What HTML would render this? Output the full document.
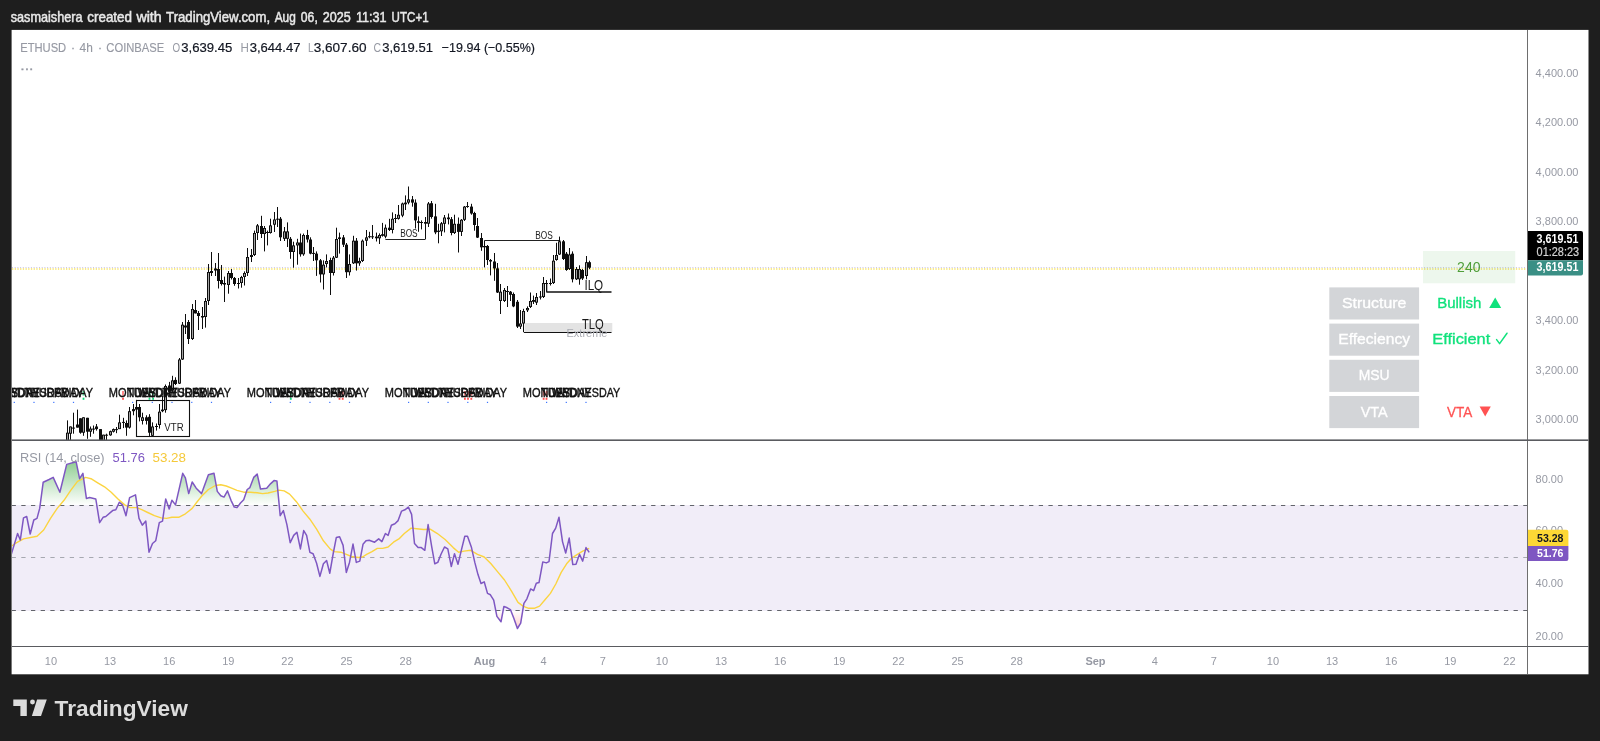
<!DOCTYPE html>
<html><head><meta charset="utf-8"><title>ETHUSD chart</title>
<style>html,body{margin:0;padding:0;background:#1e1e1e;overflow:hidden}svg{display:block;will-change:transform}</style></head>
<body>
<svg width="1600" height="741" viewBox="0 0 1600 741" font-family="Liberation Sans, sans-serif">
<rect width="1600" height="741" fill="#1e1e1e"/>
<rect x="11.6" y="29.9" width="1576.9" height="644.4" fill="#ffffff"/>
<text x="10.7" y="22" font-size="14.3" fill="#e8e8e8" text-anchor="start" font-weight="normal" textLength="71.9" lengthAdjust="spacingAndGlyphs" stroke="#e8e8e8" stroke-width="0.5">sasmaishera</text>
<text x="87.2" y="22" font-size="14.3" fill="#e8e8e8" text-anchor="start" font-weight="normal" textLength="44.9" lengthAdjust="spacingAndGlyphs" stroke="#e8e8e8" stroke-width="0.5">created</text>
<text x="136.39999999999998" y="22" font-size="14.3" fill="#e8e8e8" text-anchor="start" font-weight="normal" textLength="25.4" lengthAdjust="spacingAndGlyphs" stroke="#e8e8e8" stroke-width="0.5">with</text>
<text x="166.1" y="22" font-size="14.3" fill="#e8e8e8" text-anchor="start" font-weight="normal" textLength="104.0" lengthAdjust="spacingAndGlyphs" stroke="#e8e8e8" stroke-width="0.5">TradingView.com,</text>
<text x="274.7" y="22" font-size="14.3" fill="#e8e8e8" text-anchor="start" font-weight="normal" textLength="21.1" lengthAdjust="spacingAndGlyphs" stroke="#e8e8e8" stroke-width="0.5">Aug</text>
<text x="300.8" y="22" font-size="14.3" fill="#e8e8e8" text-anchor="start" font-weight="normal" textLength="17.0" lengthAdjust="spacingAndGlyphs" stroke="#e8e8e8" stroke-width="0.5">06,</text>
<text x="322.8" y="22" font-size="14.3" fill="#e8e8e8" text-anchor="start" font-weight="normal" textLength="28.0" lengthAdjust="spacingAndGlyphs" stroke="#e8e8e8" stroke-width="0.5">2025</text>
<text x="355.9" y="22" font-size="14.3" fill="#e8e8e8" text-anchor="start" font-weight="normal" textLength="30.6" lengthAdjust="spacingAndGlyphs" stroke="#e8e8e8" stroke-width="0.5">11:31</text>
<text x="391.59999999999997" y="22" font-size="14.3" fill="#e8e8e8" text-anchor="start" font-weight="normal" textLength="37.0" lengthAdjust="spacingAndGlyphs" stroke="#e8e8e8" stroke-width="0.5">UTC+1</text>
<defs><clipPath id="mp"><rect x="12" y="30" width="1515" height="410"/></clipPath><clipPath id="rp"><rect x="12" y="441" width="1515" height="205"/></clipPath><linearGradient id="gg" x1="0" y1="0" x2="0" y2="1"><stop offset="0" stop-color="#4caf50" stop-opacity="0.62"/><stop offset="1" stop-color="#4caf50" stop-opacity="0.0"/></linearGradient><linearGradient id="rg" x1="0" y1="0" x2="0" y2="1"><stop offset="0" stop-color="#ff5252" stop-opacity="0.0"/><stop offset="1" stop-color="#ff5252" stop-opacity="0.3"/></linearGradient></defs>
<g clip-path="url(#mp)">
<line x1="12" y1="267.5" x2="1525.5" y2="267.5" stroke="#c9c4e8" stroke-width="1" stroke-dasharray="1 1.7"/>
<line x1="12" y1="269" x2="1525.5" y2="269" stroke="#f7e463" stroke-width="1.4" stroke-dasharray="1.3 1.4"/>
<rect x="524.6" y="323" width="87.7" height="9" fill="#e3e3e3"/>
<line x1="523.8" y1="332.5" x2="611.5" y2="332.5" stroke="#111" stroke-width="1.2"/>
<line x1="546.3" y1="292" x2="611.5" y2="292" stroke="#111" stroke-width="1.6"/>
<line x1="546.8" y1="283" x2="546.8" y2="292" stroke="#111" stroke-width="1"/>
<line x1="385.4" y1="239.5" x2="425.5" y2="239.5" stroke="#222" stroke-width="1.1"/>
<line x1="484.5" y1="240.5" x2="560.3" y2="240.5" stroke="#222" stroke-width="1.1"/>
<rect x="136.5" y="400.5" width="53" height="36" fill="none" stroke="#111" stroke-width="1.1"/>
<line x1="67.5" y1="420.4" x2="67.5" y2="441.0" stroke="#0d0d0d" stroke-width="1"/>
<rect x="66" y="432.7" width="3" height="8.3" fill="#0d0d0d"/>
<rect x="67" y="433.6" width="1" height="6.5" fill="#a4a4a4"/>
<line x1="70.5" y1="426.5" x2="70.5" y2="441.0" stroke="#0d0d0d" stroke-width="1"/>
<rect x="69" y="426.5" width="3" height="7.2" fill="#0d0d0d"/>
<rect x="70" y="427.4" width="1" height="5.4" fill="#a4a4a4"/>
<line x1="73.5" y1="412.7" x2="73.5" y2="433.7" stroke="#0d0d0d" stroke-width="1"/>
<rect x="72" y="427.6" width="3" height="1.0" fill="#0d0d0d"/>
<line x1="77.5" y1="409.6" x2="77.5" y2="427.6" stroke="#0d0d0d" stroke-width="1"/>
<rect x="76" y="424.5" width="3" height="3.1" fill="#0d0d0d"/>
<line x1="80.5" y1="418.3" x2="80.5" y2="433.7" stroke="#0d0d0d" stroke-width="1"/>
<rect x="79" y="418.3" width="3" height="14.4" fill="#0d0d0d"/>
<line x1="83.5" y1="417.3" x2="83.5" y2="435.8" stroke="#0d0d0d" stroke-width="1"/>
<rect x="82" y="417.3" width="3" height="15.4" fill="#0d0d0d"/>
<rect x="83" y="418.2" width="1" height="13.6" fill="#a4a4a4"/>
<line x1="87.5" y1="417.8" x2="87.5" y2="438.8" stroke="#0d0d0d" stroke-width="1"/>
<rect x="86" y="417.8" width="3" height="13.9" fill="#0d0d0d"/>
<line x1="90.5" y1="426.5" x2="90.5" y2="436.8" stroke="#0d0d0d" stroke-width="1"/>
<rect x="89" y="428.6" width="3" height="3.1" fill="#0d0d0d"/>
<rect x="90" y="429.5" width="1" height="1.3" fill="#a4a4a4"/>
<line x1="93.5" y1="425.5" x2="93.5" y2="433.7" stroke="#0d0d0d" stroke-width="1"/>
<rect x="92" y="428.6" width="3" height="1.0" fill="#0d0d0d"/>
<line x1="96.5" y1="424.0" x2="96.5" y2="430.6" stroke="#0d0d0d" stroke-width="1"/>
<rect x="95" y="426.5" width="3" height="2.6" fill="#0d0d0d"/>
<line x1="100.5" y1="429.1" x2="100.5" y2="441.0" stroke="#0d0d0d" stroke-width="1"/>
<rect x="99" y="429.1" width="3" height="11.9" fill="#0d0d0d"/>
<line x1="103.5" y1="434.7" x2="103.5" y2="441.0" stroke="#0d0d0d" stroke-width="1"/>
<rect x="102" y="434.7" width="3" height="6.3" fill="#0d0d0d"/>
<rect x="103" y="435.6" width="1" height="4.5" fill="#a4a4a4"/>
<line x1="106.5" y1="433.7" x2="106.5" y2="441.0" stroke="#0d0d0d" stroke-width="1"/>
<rect x="105" y="434.7" width="3" height="1.0" fill="#0d0d0d"/>
<line x1="110.5" y1="430.6" x2="110.5" y2="435.8" stroke="#0d0d0d" stroke-width="1"/>
<rect x="109" y="431.2" width="3" height="4.1" fill="#0d0d0d"/>
<rect x="110" y="432.1" width="1" height="2.3" fill="#a4a4a4"/>
<line x1="113.5" y1="428.5" x2="113.5" y2="432.5" stroke="#0d0d0d" stroke-width="1"/>
<rect x="112" y="429.1" width="3" height="2.6" fill="#0d0d0d"/>
<rect x="113" y="430.0" width="1" height="0.8" fill="#a4a4a4"/>
<line x1="116.5" y1="427.0" x2="116.5" y2="433.2" stroke="#0d0d0d" stroke-width="1"/>
<rect x="115" y="429.1" width="3" height="1.0" fill="#0d0d0d"/>
<line x1="119.5" y1="414.7" x2="119.5" y2="429.1" stroke="#0d0d0d" stroke-width="1"/>
<rect x="118" y="422.4" width="3" height="6.7" fill="#0d0d0d"/>
<rect x="119" y="423.3" width="1" height="4.9" fill="#a4a4a4"/>
<line x1="123.5" y1="417.8" x2="123.5" y2="428.1" stroke="#0d0d0d" stroke-width="1"/>
<rect x="122" y="421.9" width="3" height="1.0" fill="#0d0d0d"/>
<line x1="126.5" y1="420.4" x2="126.5" y2="435.8" stroke="#0d0d0d" stroke-width="1"/>
<rect x="125" y="423.0" width="3" height="4.6" fill="#0d0d0d"/>
<line x1="129.5" y1="407.0" x2="129.5" y2="428.6" stroke="#0d0d0d" stroke-width="1"/>
<rect x="128" y="411.2" width="3" height="16.4" fill="#0d0d0d"/>
<rect x="129" y="412.1" width="1" height="14.6" fill="#a4a4a4"/>
<line x1="133.5" y1="404.0" x2="133.5" y2="415.3" stroke="#0d0d0d" stroke-width="1"/>
<rect x="132" y="409.1" width="3" height="2.1" fill="#0d0d0d"/>
<line x1="136.5" y1="399.9" x2="136.5" y2="410.0" stroke="#0d0d0d" stroke-width="1"/>
<rect x="135" y="407.0" width="3" height="2.6" fill="#0d0d0d"/>
<line x1="139.5" y1="404.0" x2="139.5" y2="421.4" stroke="#0d0d0d" stroke-width="1"/>
<rect x="138" y="407.0" width="3" height="10.3" fill="#0d0d0d"/>
<line x1="142.5" y1="412.7" x2="142.5" y2="424.5" stroke="#0d0d0d" stroke-width="1"/>
<rect x="141" y="417.3" width="3" height="3.6" fill="#0d0d0d"/>
<rect x="142" y="418.2" width="1" height="1.8" fill="#a4a4a4"/>
<line x1="146.5" y1="415.3" x2="146.5" y2="424.5" stroke="#0d0d0d" stroke-width="1"/>
<rect x="145" y="417.3" width="3" height="3.6" fill="#0d0d0d"/>
<line x1="149.5" y1="414.2" x2="149.5" y2="436.8" stroke="#0d0d0d" stroke-width="1"/>
<rect x="148" y="416.8" width="3" height="15.9" fill="#0d0d0d"/>
<line x1="152.5" y1="422.4" x2="152.5" y2="435.8" stroke="#0d0d0d" stroke-width="1"/>
<rect x="151" y="426.5" width="3" height="9.3" fill="#0d0d0d"/>
<rect x="152" y="427.4" width="1" height="7.5" fill="#a4a4a4"/>
<line x1="156.5" y1="423.5" x2="156.5" y2="430.6" stroke="#0d0d0d" stroke-width="1"/>
<rect x="155" y="426.0" width="3" height="1.0" fill="#0d0d0d"/>
<line x1="159.5" y1="404.0" x2="159.5" y2="428.6" stroke="#0d0d0d" stroke-width="1"/>
<rect x="158" y="411.7" width="3" height="13.3" fill="#0d0d0d"/>
<rect x="159" y="412.6" width="1" height="11.5" fill="#a4a4a4"/>
<line x1="162.5" y1="395.8" x2="162.5" y2="412.2" stroke="#0d0d0d" stroke-width="1"/>
<rect x="161" y="409.6" width="3" height="1.6" fill="#0d0d0d"/>
<line x1="165.5" y1="384.5" x2="165.5" y2="412.7" stroke="#0d0d0d" stroke-width="1"/>
<rect x="164" y="386.0" width="3" height="24.1" fill="#0d0d0d"/>
<rect x="165" y="386.9" width="1" height="22.3" fill="#a4a4a4"/>
<line x1="169.5" y1="381.9" x2="169.5" y2="393.7" stroke="#0d0d0d" stroke-width="1"/>
<rect x="168" y="385.5" width="3" height="6.2" fill="#0d0d0d"/>
<line x1="172.5" y1="375.8" x2="172.5" y2="391.7" stroke="#0d0d0d" stroke-width="1"/>
<rect x="171" y="380.4" width="3" height="10.2" fill="#0d0d0d"/>
<rect x="172" y="381.3" width="1" height="8.4" fill="#a4a4a4"/>
<line x1="175.5" y1="377.3" x2="175.5" y2="385.0" stroke="#0d0d0d" stroke-width="1"/>
<rect x="174" y="379.9" width="3" height="4.1" fill="#0d0d0d"/>
<line x1="179.5" y1="358.0" x2="179.5" y2="384.0" stroke="#0d0d0d" stroke-width="1"/>
<rect x="178" y="359.5" width="3" height="24.1" fill="#0d0d0d"/>
<rect x="179" y="360.4" width="1" height="22.3" fill="#a4a4a4"/>
<line x1="182.5" y1="322.0" x2="182.5" y2="360.0" stroke="#0d0d0d" stroke-width="1"/>
<rect x="181" y="324.7" width="3" height="34.8" fill="#0d0d0d"/>
<rect x="182" y="325.6" width="1" height="33.0" fill="#a4a4a4"/>
<line x1="185.5" y1="314.0" x2="185.5" y2="334.0" stroke="#0d0d0d" stroke-width="1"/>
<rect x="184" y="325.5" width="3" height="2.0" fill="#0d0d0d"/>
<line x1="188.5" y1="320.0" x2="188.5" y2="344.0" stroke="#0d0d0d" stroke-width="1"/>
<rect x="187" y="322.0" width="3" height="17.0" fill="#0d0d0d"/>
<line x1="192.5" y1="304.0" x2="192.5" y2="340.0" stroke="#0d0d0d" stroke-width="1"/>
<rect x="191" y="309.0" width="3" height="30.0" fill="#0d0d0d"/>
<rect x="192" y="309.9" width="1" height="28.2" fill="#a4a4a4"/>
<line x1="195.5" y1="300.0" x2="195.5" y2="313.4" stroke="#0d0d0d" stroke-width="1"/>
<rect x="194" y="310.0" width="3" height="3.4" fill="#0d0d0d"/>
<line x1="198.5" y1="311.0" x2="198.5" y2="330.0" stroke="#0d0d0d" stroke-width="1"/>
<rect x="197" y="313.0" width="3" height="3.0" fill="#0d0d0d"/>
<line x1="202.5" y1="307.0" x2="202.5" y2="329.0" stroke="#0d0d0d" stroke-width="1"/>
<rect x="201" y="316.0" width="3" height="1.5" fill="#0d0d0d"/>
<line x1="205.5" y1="298.0" x2="205.5" y2="327.6" stroke="#0d0d0d" stroke-width="1"/>
<rect x="204" y="301.0" width="3" height="16.0" fill="#0d0d0d"/>
<rect x="205" y="301.9" width="1" height="14.2" fill="#a4a4a4"/>
<line x1="208.5" y1="264.0" x2="208.5" y2="305.0" stroke="#0d0d0d" stroke-width="1"/>
<rect x="207" y="272.0" width="3" height="29.0" fill="#0d0d0d"/>
<rect x="208" y="272.9" width="1" height="27.2" fill="#a4a4a4"/>
<line x1="211.5" y1="252.0" x2="211.5" y2="276.0" stroke="#0d0d0d" stroke-width="1"/>
<rect x="210" y="271.0" width="3" height="2.0" fill="#0d0d0d"/>
<line x1="215.5" y1="263.0" x2="215.5" y2="276.0" stroke="#0d0d0d" stroke-width="1"/>
<rect x="214" y="268.5" width="3" height="2.0" fill="#0d0d0d"/>
<line x1="218.5" y1="253.0" x2="218.5" y2="288.5" stroke="#0d0d0d" stroke-width="1"/>
<rect x="217" y="269.0" width="3" height="12.0" fill="#0d0d0d"/>
<line x1="221.5" y1="265.0" x2="221.5" y2="285.5" stroke="#0d0d0d" stroke-width="1"/>
<rect x="220" y="280.0" width="3" height="4.0" fill="#0d0d0d"/>
<line x1="224.5" y1="276.6" x2="224.5" y2="302.0" stroke="#0d0d0d" stroke-width="1"/>
<rect x="223" y="283.0" width="3" height="1.5" fill="#0d0d0d"/>
<line x1="228.5" y1="271.0" x2="228.5" y2="293.7" stroke="#0d0d0d" stroke-width="1"/>
<rect x="227" y="273.0" width="3" height="12.0" fill="#0d0d0d"/>
<rect x="228" y="273.9" width="1" height="10.2" fill="#a4a4a4"/>
<line x1="231.5" y1="269.0" x2="231.5" y2="279.5" stroke="#0d0d0d" stroke-width="1"/>
<rect x="230" y="273.0" width="3" height="5.0" fill="#0d0d0d"/>
<line x1="234.5" y1="277.0" x2="234.5" y2="285.8" stroke="#0d0d0d" stroke-width="1"/>
<rect x="233" y="278.0" width="3" height="6.0" fill="#0d0d0d"/>
<line x1="238.5" y1="278.0" x2="238.5" y2="288.5" stroke="#0d0d0d" stroke-width="1"/>
<rect x="237" y="283.0" width="3" height="1.0" fill="#0d0d0d"/>
<line x1="241.5" y1="275.9" x2="241.5" y2="287.7" stroke="#0d0d0d" stroke-width="1"/>
<rect x="240" y="277.0" width="3" height="6.0" fill="#0d0d0d"/>
<rect x="241" y="277.9" width="1" height="4.2" fill="#a4a4a4"/>
<line x1="244.5" y1="271.4" x2="244.5" y2="285.5" stroke="#0d0d0d" stroke-width="1"/>
<rect x="243" y="273.0" width="3" height="4.0" fill="#0d0d0d"/>
<rect x="244" y="273.9" width="1" height="2.2" fill="#a4a4a4"/>
<line x1="247.5" y1="248.0" x2="247.5" y2="276.0" stroke="#0d0d0d" stroke-width="1"/>
<rect x="246" y="257.0" width="3" height="16.0" fill="#0d0d0d"/>
<rect x="247" y="257.9" width="1" height="14.2" fill="#a4a4a4"/>
<line x1="251.5" y1="249.0" x2="251.5" y2="262.0" stroke="#0d0d0d" stroke-width="1"/>
<rect x="250" y="255.0" width="3" height="2.0" fill="#0d0d0d"/>
<line x1="254.5" y1="230.6" x2="254.5" y2="256.0" stroke="#0d0d0d" stroke-width="1"/>
<rect x="253" y="233.0" width="3" height="22.0" fill="#0d0d0d"/>
<rect x="254" y="233.9" width="1" height="20.2" fill="#a4a4a4"/>
<line x1="257.5" y1="224.0" x2="257.5" y2="240.0" stroke="#0d0d0d" stroke-width="1"/>
<rect x="256" y="225.4" width="3" height="7.6" fill="#0d0d0d"/>
<rect x="257" y="226.3" width="1" height="5.8" fill="#a4a4a4"/>
<line x1="261.5" y1="215.8" x2="261.5" y2="238.0" stroke="#0d0d0d" stroke-width="1"/>
<rect x="260" y="226.0" width="3" height="8.0" fill="#0d0d0d"/>
<line x1="264.5" y1="226.0" x2="264.5" y2="251.4" stroke="#0d0d0d" stroke-width="1"/>
<rect x="263" y="228.0" width="3" height="6.0" fill="#0d0d0d"/>
<rect x="264" y="228.9" width="1" height="4.2" fill="#a4a4a4"/>
<line x1="267.5" y1="230.6" x2="267.5" y2="245.4" stroke="#0d0d0d" stroke-width="1"/>
<rect x="266" y="232.0" width="3" height="1.0" fill="#0d0d0d"/>
<line x1="270.5" y1="218.7" x2="270.5" y2="233.6" stroke="#0d0d0d" stroke-width="1"/>
<rect x="269" y="225.4" width="3" height="7.6" fill="#0d0d0d"/>
<rect x="270" y="226.3" width="1" height="5.8" fill="#a4a4a4"/>
<line x1="274.5" y1="212.0" x2="274.5" y2="232.0" stroke="#0d0d0d" stroke-width="1"/>
<rect x="273" y="219.5" width="3" height="5.2" fill="#0d0d0d"/>
<rect x="274" y="220.4" width="1" height="3.4" fill="#a4a4a4"/>
<line x1="277.5" y1="207.0" x2="277.5" y2="227.0" stroke="#0d0d0d" stroke-width="1"/>
<rect x="276" y="218.7" width="3" height="1.0" fill="#0d0d0d"/>
<line x1="280.5" y1="217.0" x2="280.5" y2="241.0" stroke="#0d0d0d" stroke-width="1"/>
<rect x="279" y="218.7" width="3" height="18.6" fill="#0d0d0d"/>
<line x1="284.5" y1="227.0" x2="284.5" y2="241.0" stroke="#0d0d0d" stroke-width="1"/>
<rect x="283" y="231.4" width="3" height="7.4" fill="#0d0d0d"/>
<rect x="284" y="232.3" width="1" height="5.6" fill="#a4a4a4"/>
<line x1="287.5" y1="222.4" x2="287.5" y2="247.0" stroke="#0d0d0d" stroke-width="1"/>
<rect x="286" y="231.4" width="3" height="7.4" fill="#0d0d0d"/>
<rect x="287" y="232.3" width="1" height="5.6" fill="#a4a4a4"/>
<line x1="290.5" y1="237.0" x2="290.5" y2="258.8" stroke="#0d0d0d" stroke-width="1"/>
<rect x="289" y="238.8" width="3" height="13.2" fill="#0d0d0d"/>
<line x1="293.5" y1="241.7" x2="293.5" y2="267.7" stroke="#0d0d0d" stroke-width="1"/>
<rect x="292" y="245.4" width="3" height="6.6" fill="#0d0d0d"/>
<rect x="293" y="246.3" width="1" height="4.8" fill="#a4a4a4"/>
<line x1="297.5" y1="238.8" x2="297.5" y2="264.7" stroke="#0d0d0d" stroke-width="1"/>
<rect x="296" y="242.5" width="3" height="2.9" fill="#0d0d0d"/>
<rect x="297" y="243.4" width="1" height="1.1" fill="#a4a4a4"/>
<line x1="300.5" y1="233.6" x2="300.5" y2="256.6" stroke="#0d0d0d" stroke-width="1"/>
<rect x="299" y="242.5" width="3" height="11.8" fill="#0d0d0d"/>
<line x1="303.5" y1="233.6" x2="303.5" y2="255.8" stroke="#0d0d0d" stroke-width="1"/>
<rect x="302" y="235.0" width="3" height="19.3" fill="#0d0d0d"/>
<rect x="303" y="235.9" width="1" height="17.5" fill="#a4a4a4"/>
<line x1="307.5" y1="229.9" x2="307.5" y2="242.5" stroke="#0d0d0d" stroke-width="1"/>
<rect x="306" y="235.0" width="3" height="4.5" fill="#0d0d0d"/>
<line x1="310.5" y1="237.3" x2="310.5" y2="254.3" stroke="#0d0d0d" stroke-width="1"/>
<rect x="309" y="239.5" width="3" height="14.1" fill="#0d0d0d"/>
<line x1="313.5" y1="247.0" x2="313.5" y2="261.0" stroke="#0d0d0d" stroke-width="1"/>
<rect x="312" y="252.9" width="3" height="1.0" fill="#0d0d0d"/>
<line x1="316.5" y1="251.4" x2="316.5" y2="275.9" stroke="#0d0d0d" stroke-width="1"/>
<rect x="315" y="253.6" width="3" height="6.7" fill="#0d0d0d"/>
<line x1="320.5" y1="259.0" x2="320.5" y2="282.5" stroke="#0d0d0d" stroke-width="1"/>
<rect x="319" y="260.3" width="3" height="14.1" fill="#0d0d0d"/>
<line x1="323.5" y1="260.3" x2="323.5" y2="289.5" stroke="#0d0d0d" stroke-width="1"/>
<rect x="322" y="264.7" width="3" height="9.7" fill="#0d0d0d"/>
<rect x="323" y="265.6" width="1" height="7.9" fill="#a4a4a4"/>
<line x1="326.5" y1="254.4" x2="326.5" y2="267.4" stroke="#0d0d0d" stroke-width="1"/>
<rect x="325" y="261.0" width="3" height="3.0" fill="#0d0d0d"/>
<rect x="326" y="261.9" width="1" height="1.2" fill="#a4a4a4"/>
<line x1="330.5" y1="257.7" x2="330.5" y2="295.0" stroke="#0d0d0d" stroke-width="1"/>
<rect x="329" y="260.0" width="3" height="13.0" fill="#0d0d0d"/>
<line x1="333.5" y1="256.0" x2="333.5" y2="275.5" stroke="#0d0d0d" stroke-width="1"/>
<rect x="332" y="257.7" width="3" height="15.3" fill="#0d0d0d"/>
<rect x="333" y="258.6" width="1" height="13.5" fill="#a4a4a4"/>
<line x1="336.5" y1="227.7" x2="336.5" y2="258.0" stroke="#0d0d0d" stroke-width="1"/>
<rect x="335" y="239.0" width="3" height="18.7" fill="#0d0d0d"/>
<rect x="336" y="239.9" width="1" height="16.9" fill="#a4a4a4"/>
<line x1="339.5" y1="232.6" x2="339.5" y2="253.6" stroke="#0d0d0d" stroke-width="1"/>
<rect x="338" y="237.4" width="3" height="1.6" fill="#0d0d0d"/>
<line x1="343.5" y1="235.0" x2="343.5" y2="247.0" stroke="#0d0d0d" stroke-width="1"/>
<rect x="342" y="237.4" width="3" height="7.3" fill="#0d0d0d"/>
<line x1="346.5" y1="243.0" x2="346.5" y2="278.0" stroke="#0d0d0d" stroke-width="1"/>
<rect x="345" y="244.7" width="3" height="27.5" fill="#0d0d0d"/>
<line x1="349.5" y1="254.4" x2="349.5" y2="275.5" stroke="#0d0d0d" stroke-width="1"/>
<rect x="348" y="264.0" width="3" height="8.2" fill="#0d0d0d"/>
<rect x="349" y="264.9" width="1" height="6.4" fill="#a4a4a4"/>
<line x1="353.5" y1="235.8" x2="353.5" y2="264.0" stroke="#0d0d0d" stroke-width="1"/>
<rect x="352" y="240.7" width="3" height="22.6" fill="#0d0d0d"/>
<rect x="353" y="241.6" width="1" height="20.8" fill="#a4a4a4"/>
<line x1="356.5" y1="238.0" x2="356.5" y2="270.6" stroke="#0d0d0d" stroke-width="1"/>
<rect x="355" y="240.7" width="3" height="22.6" fill="#0d0d0d"/>
<line x1="359.5" y1="257.7" x2="359.5" y2="265.8" stroke="#0d0d0d" stroke-width="1"/>
<rect x="358" y="261.0" width="3" height="2.3" fill="#0d0d0d"/>
<rect x="359" y="261.9" width="1" height="0.5" fill="#a4a4a4"/>
<line x1="362.5" y1="239.5" x2="362.5" y2="262.0" stroke="#0d0d0d" stroke-width="1"/>
<rect x="361" y="240.7" width="3" height="20.3" fill="#0d0d0d"/>
<rect x="362" y="241.6" width="1" height="18.5" fill="#a4a4a4"/>
<line x1="366.5" y1="230.0" x2="366.5" y2="246.0" stroke="#0d0d0d" stroke-width="1"/>
<rect x="365" y="237.4" width="3" height="3.3" fill="#0d0d0d"/>
<rect x="366" y="238.3" width="1" height="1.5" fill="#a4a4a4"/>
<line x1="369.5" y1="231.8" x2="369.5" y2="238.3" stroke="#0d0d0d" stroke-width="1"/>
<rect x="368" y="236.2" width="3" height="1.0" fill="#0d0d0d"/>
<line x1="372.5" y1="225.0" x2="372.5" y2="239.0" stroke="#0d0d0d" stroke-width="1"/>
<rect x="371" y="236.3" width="3" height="1.0" fill="#0d0d0d"/>
<line x1="376.5" y1="232.6" x2="376.5" y2="241.5" stroke="#0d0d0d" stroke-width="1"/>
<rect x="375" y="236.6" width="3" height="1.7" fill="#0d0d0d"/>
<line x1="379.5" y1="233.4" x2="379.5" y2="244.0" stroke="#0d0d0d" stroke-width="1"/>
<rect x="378" y="235.0" width="3" height="3.3" fill="#0d0d0d"/>
<rect x="379" y="235.9" width="1" height="1.5" fill="#a4a4a4"/>
<line x1="382.5" y1="222.9" x2="382.5" y2="236.6" stroke="#0d0d0d" stroke-width="1"/>
<rect x="381" y="234.2" width="3" height="1.6" fill="#0d0d0d"/>
<line x1="385.5" y1="224.5" x2="385.5" y2="238.3" stroke="#0d0d0d" stroke-width="1"/>
<rect x="384" y="227.7" width="3" height="8.9" fill="#0d0d0d"/>
<rect x="385" y="228.6" width="1" height="7.1" fill="#a4a4a4"/>
<line x1="389.5" y1="218.8" x2="389.5" y2="231.0" stroke="#0d0d0d" stroke-width="1"/>
<rect x="388" y="227.7" width="3" height="2.3" fill="#0d0d0d"/>
<line x1="392.5" y1="212.4" x2="392.5" y2="233.4" stroke="#0d0d0d" stroke-width="1"/>
<rect x="391" y="218.8" width="3" height="11.2" fill="#0d0d0d"/>
<rect x="392" y="219.7" width="1" height="9.4" fill="#a4a4a4"/>
<line x1="395.5" y1="214.0" x2="395.5" y2="223.0" stroke="#0d0d0d" stroke-width="1"/>
<rect x="394" y="218.0" width="3" height="1.0" fill="#0d0d0d"/>
<line x1="398.5" y1="205.0" x2="398.5" y2="219.6" stroke="#0d0d0d" stroke-width="1"/>
<rect x="397" y="214.8" width="3" height="4.0" fill="#0d0d0d"/>
<rect x="398" y="215.7" width="1" height="2.2" fill="#a4a4a4"/>
<line x1="402.5" y1="202.6" x2="402.5" y2="217.2" stroke="#0d0d0d" stroke-width="1"/>
<rect x="401" y="203.5" width="3" height="12.1" fill="#0d0d0d"/>
<rect x="402" y="204.4" width="1" height="10.3" fill="#a4a4a4"/>
<line x1="405.5" y1="195.4" x2="405.5" y2="210.0" stroke="#0d0d0d" stroke-width="1"/>
<rect x="404" y="202.6" width="3" height="1.7" fill="#0d0d0d"/>
<line x1="408.5" y1="186.5" x2="408.5" y2="204.3" stroke="#0d0d0d" stroke-width="1"/>
<rect x="407" y="199.4" width="3" height="3.2" fill="#0d0d0d"/>
<rect x="408" y="200.3" width="1" height="1.4" fill="#a4a4a4"/>
<line x1="412.5" y1="196.0" x2="412.5" y2="206.7" stroke="#0d0d0d" stroke-width="1"/>
<rect x="411" y="199.4" width="3" height="3.2" fill="#0d0d0d"/>
<line x1="415.5" y1="199.4" x2="415.5" y2="228.5" stroke="#0d0d0d" stroke-width="1"/>
<rect x="414" y="202.6" width="3" height="17.8" fill="#0d0d0d"/>
<line x1="418.5" y1="216.4" x2="418.5" y2="231.8" stroke="#0d0d0d" stroke-width="1"/>
<rect x="417" y="221.3" width="3" height="1.6" fill="#0d0d0d"/>
<line x1="421.5" y1="220.4" x2="421.5" y2="229.4" stroke="#0d0d0d" stroke-width="1"/>
<rect x="420" y="222.0" width="3" height="1.0" fill="#0d0d0d"/>
<line x1="425.5" y1="217.0" x2="425.5" y2="239.0" stroke="#0d0d0d" stroke-width="1"/>
<rect x="424" y="222.0" width="3" height="1.7" fill="#0d0d0d"/>
<line x1="428.5" y1="202.0" x2="428.5" y2="227.0" stroke="#0d0d0d" stroke-width="1"/>
<rect x="427" y="203.5" width="3" height="20.2" fill="#0d0d0d"/>
<rect x="428" y="204.4" width="1" height="18.4" fill="#a4a4a4"/>
<line x1="431.5" y1="201.0" x2="431.5" y2="218.7" stroke="#0d0d0d" stroke-width="1"/>
<rect x="430" y="203.2" width="3" height="13.8" fill="#0d0d0d"/>
<line x1="435.5" y1="203.8" x2="435.5" y2="234.2" stroke="#0d0d0d" stroke-width="1"/>
<rect x="434" y="216.4" width="3" height="16.0" fill="#0d0d0d"/>
<line x1="438.5" y1="223.8" x2="438.5" y2="243.3" stroke="#0d0d0d" stroke-width="1"/>
<rect x="437" y="230.7" width="3" height="1.2" fill="#0d0d0d"/>
<line x1="441.5" y1="222.0" x2="441.5" y2="236.0" stroke="#0d0d0d" stroke-width="1"/>
<rect x="440" y="223.3" width="3" height="8.0" fill="#0d0d0d"/>
<rect x="441" y="224.2" width="1" height="6.2" fill="#a4a4a4"/>
<line x1="444.5" y1="215.0" x2="444.5" y2="232.4" stroke="#0d0d0d" stroke-width="1"/>
<rect x="443" y="217.5" width="3" height="6.3" fill="#0d0d0d"/>
<rect x="444" y="218.4" width="1" height="4.5" fill="#a4a4a4"/>
<line x1="448.5" y1="213.5" x2="448.5" y2="224.4" stroke="#0d0d0d" stroke-width="1"/>
<rect x="447" y="217.5" width="3" height="1.7" fill="#0d0d0d"/>
<line x1="451.5" y1="217.0" x2="451.5" y2="235.3" stroke="#0d0d0d" stroke-width="1"/>
<rect x="450" y="219.2" width="3" height="13.8" fill="#0d0d0d"/>
<line x1="454.5" y1="214.7" x2="454.5" y2="234.0" stroke="#0d0d0d" stroke-width="1"/>
<rect x="453" y="223.8" width="3" height="9.2" fill="#0d0d0d"/>
<rect x="454" y="224.7" width="1" height="7.4" fill="#a4a4a4"/>
<line x1="458.5" y1="217.5" x2="458.5" y2="252.5" stroke="#0d0d0d" stroke-width="1"/>
<rect x="457" y="223.8" width="3" height="8.1" fill="#0d0d0d"/>
<line x1="461.5" y1="219.0" x2="461.5" y2="236.0" stroke="#0d0d0d" stroke-width="1"/>
<rect x="460" y="219.8" width="3" height="12.1" fill="#0d0d0d"/>
<rect x="461" y="220.7" width="1" height="10.3" fill="#a4a4a4"/>
<line x1="464.5" y1="206.0" x2="464.5" y2="221.0" stroke="#0d0d0d" stroke-width="1"/>
<rect x="463" y="206.6" width="3" height="13.2" fill="#0d0d0d"/>
<rect x="464" y="207.5" width="1" height="11.4" fill="#a4a4a4"/>
<line x1="467.5" y1="202.0" x2="467.5" y2="207.8" stroke="#0d0d0d" stroke-width="1"/>
<rect x="466" y="206.0" width="3" height="1.0" fill="#0d0d0d"/>
<line x1="471.5" y1="203.8" x2="471.5" y2="214.7" stroke="#0d0d0d" stroke-width="1"/>
<rect x="470" y="206.6" width="3" height="6.9" fill="#0d0d0d"/>
<line x1="474.5" y1="211.8" x2="474.5" y2="230.7" stroke="#0d0d0d" stroke-width="1"/>
<rect x="473" y="213.0" width="3" height="12.0" fill="#0d0d0d"/>
<line x1="477.5" y1="218.0" x2="477.5" y2="238.0" stroke="#0d0d0d" stroke-width="1"/>
<rect x="476" y="226.0" width="3" height="11.6" fill="#0d0d0d"/>
<line x1="481.5" y1="233.0" x2="481.5" y2="250.8" stroke="#0d0d0d" stroke-width="1"/>
<rect x="480" y="238.0" width="3" height="9.3" fill="#0d0d0d"/>
<line x1="484.5" y1="240.5" x2="484.5" y2="267.4" stroke="#0d0d0d" stroke-width="1"/>
<rect x="483" y="246.0" width="3" height="1.3" fill="#0d0d0d"/>
<line x1="487.5" y1="245.0" x2="487.5" y2="265.0" stroke="#0d0d0d" stroke-width="1"/>
<rect x="486" y="246.0" width="3" height="14.0" fill="#0d0d0d"/>
<line x1="490.5" y1="259.0" x2="490.5" y2="275.4" stroke="#0d0d0d" stroke-width="1"/>
<rect x="489" y="260.0" width="3" height="1.5" fill="#0d0d0d"/>
<line x1="494.5" y1="253.0" x2="494.5" y2="280.8" stroke="#0d0d0d" stroke-width="1"/>
<rect x="493" y="261.5" width="3" height="6.9" fill="#0d0d0d"/>
<line x1="497.5" y1="263.0" x2="497.5" y2="293.0" stroke="#0d0d0d" stroke-width="1"/>
<rect x="496" y="268.4" width="3" height="24.1" fill="#0d0d0d"/>
<line x1="500.5" y1="284.0" x2="500.5" y2="314.0" stroke="#0d0d0d" stroke-width="1"/>
<rect x="499" y="291.7" width="3" height="9.3" fill="#0d0d0d"/>
<rect x="500" y="292.6" width="1" height="7.5" fill="#a4a4a4"/>
<line x1="504.5" y1="288.0" x2="504.5" y2="302.0" stroke="#0d0d0d" stroke-width="1"/>
<rect x="503" y="290.0" width="3" height="11.0" fill="#0d0d0d"/>
<rect x="504" y="290.9" width="1" height="9.2" fill="#a4a4a4"/>
<line x1="507.5" y1="286.0" x2="507.5" y2="307.0" stroke="#0d0d0d" stroke-width="1"/>
<rect x="506" y="291.0" width="3" height="1.0" fill="#0d0d0d"/>
<line x1="510.5" y1="291.0" x2="510.5" y2="301.0" stroke="#0d0d0d" stroke-width="1"/>
<rect x="509" y="291.7" width="3" height="3.1" fill="#0d0d0d"/>
<line x1="513.5" y1="292.5" x2="513.5" y2="307.2" stroke="#0d0d0d" stroke-width="1"/>
<rect x="512" y="294.0" width="3" height="12.4" fill="#0d0d0d"/>
<line x1="517.5" y1="300.0" x2="517.5" y2="328.0" stroke="#0d0d0d" stroke-width="1"/>
<rect x="516" y="301.8" width="3" height="24.8" fill="#0d0d0d"/>
<line x1="520.5" y1="310.0" x2="520.5" y2="329.0" stroke="#0d0d0d" stroke-width="1"/>
<rect x="519" y="323.5" width="3" height="3.1" fill="#0d0d0d"/>
<rect x="520" y="324.4" width="1" height="1.3" fill="#a4a4a4"/>
<line x1="523.5" y1="308.8" x2="523.5" y2="332.0" stroke="#0d0d0d" stroke-width="1"/>
<rect x="522" y="311.0" width="3" height="12.5" fill="#0d0d0d"/>
<rect x="523" y="311.9" width="1" height="10.7" fill="#a4a4a4"/>
<line x1="527.5" y1="306.4" x2="527.5" y2="312.0" stroke="#0d0d0d" stroke-width="1"/>
<rect x="526" y="308.0" width="3" height="2.3" fill="#0d0d0d"/>
<rect x="527" y="308.9" width="1" height="0.5" fill="#a4a4a4"/>
<line x1="530.5" y1="292.5" x2="530.5" y2="308.0" stroke="#0d0d0d" stroke-width="1"/>
<rect x="529" y="301.0" width="3" height="6.0" fill="#0d0d0d"/>
<rect x="530" y="301.9" width="1" height="4.2" fill="#a4a4a4"/>
<line x1="533.5" y1="295.6" x2="533.5" y2="304.0" stroke="#0d0d0d" stroke-width="1"/>
<rect x="532" y="300.0" width="3" height="1.8" fill="#0d0d0d"/>
<line x1="536.5" y1="293.0" x2="536.5" y2="305.0" stroke="#0d0d0d" stroke-width="1"/>
<rect x="535" y="297.0" width="3" height="5.6" fill="#0d0d0d"/>
<rect x="536" y="297.9" width="1" height="3.8" fill="#a4a4a4"/>
<line x1="540.5" y1="291.0" x2="540.5" y2="299.5" stroke="#0d0d0d" stroke-width="1"/>
<rect x="539" y="296.5" width="3" height="1.0" fill="#0d0d0d"/>
<line x1="543.5" y1="277.0" x2="543.5" y2="298.0" stroke="#0d0d0d" stroke-width="1"/>
<rect x="542" y="283.0" width="3" height="14.0" fill="#0d0d0d"/>
<rect x="543" y="283.9" width="1" height="12.2" fill="#a4a4a4"/>
<line x1="546.5" y1="280.0" x2="546.5" y2="291.7" stroke="#0d0d0d" stroke-width="1"/>
<rect x="545" y="283.0" width="3" height="1.0" fill="#0d0d0d"/>
<line x1="550.5" y1="278.5" x2="550.5" y2="285.5" stroke="#0d0d0d" stroke-width="1"/>
<rect x="549" y="283.0" width="3" height="1.0" fill="#0d0d0d"/>
<line x1="553.5" y1="255.0" x2="553.5" y2="284.0" stroke="#0d0d0d" stroke-width="1"/>
<rect x="552" y="260.7" width="3" height="22.3" fill="#0d0d0d"/>
<rect x="553" y="261.6" width="1" height="20.5" fill="#a4a4a4"/>
<line x1="556.5" y1="242.8" x2="556.5" y2="260.7" stroke="#0d0d0d" stroke-width="1"/>
<rect x="555" y="255.0" width="3" height="5.0" fill="#0d0d0d"/>
<rect x="556" y="255.9" width="1" height="3.2" fill="#a4a4a4"/>
<line x1="559.5" y1="236.6" x2="559.5" y2="255.0" stroke="#0d0d0d" stroke-width="1"/>
<rect x="558" y="241.3" width="3" height="13.2" fill="#0d0d0d"/>
<rect x="559" y="242.2" width="1" height="11.4" fill="#a4a4a4"/>
<line x1="563.5" y1="240.0" x2="563.5" y2="260.0" stroke="#0d0d0d" stroke-width="1"/>
<rect x="562" y="241.3" width="3" height="17.7" fill="#0d0d0d"/>
<line x1="566.5" y1="252.0" x2="566.5" y2="270.8" stroke="#0d0d0d" stroke-width="1"/>
<rect x="565" y="253.7" width="3" height="16.3" fill="#0d0d0d"/>
<line x1="569.5" y1="248.0" x2="569.5" y2="270.0" stroke="#0d0d0d" stroke-width="1"/>
<rect x="568" y="254.5" width="3" height="14.5" fill="#0d0d0d"/>
<rect x="569" y="255.4" width="1" height="12.7" fill="#a4a4a4"/>
<line x1="572.5" y1="251.4" x2="572.5" y2="282.4" stroke="#0d0d0d" stroke-width="1"/>
<rect x="571" y="253.7" width="3" height="25.6" fill="#0d0d0d"/>
<line x1="576.5" y1="267.0" x2="576.5" y2="280.0" stroke="#0d0d0d" stroke-width="1"/>
<rect x="575" y="269.0" width="3" height="10.3" fill="#0d0d0d"/>
<rect x="576" y="269.9" width="1" height="8.5" fill="#a4a4a4"/>
<line x1="579.5" y1="265.3" x2="579.5" y2="284.7" stroke="#0d0d0d" stroke-width="1"/>
<rect x="578" y="269.0" width="3" height="10.3" fill="#0d0d0d"/>
<rect x="579" y="269.9" width="1" height="8.5" fill="#a4a4a4"/>
<line x1="582.5" y1="269.0" x2="582.5" y2="280.0" stroke="#0d0d0d" stroke-width="1"/>
<rect x="581" y="270.0" width="3" height="8.5" fill="#0d0d0d"/>
<line x1="586.5" y1="256.0" x2="586.5" y2="279.3" stroke="#0d0d0d" stroke-width="1"/>
<rect x="585" y="262.2" width="3" height="13.8" fill="#0d0d0d"/>
<rect x="586" y="263.1" width="1" height="12.0" fill="#a4a4a4"/>
<line x1="589.5" y1="260.7" x2="589.5" y2="269.2" stroke="#0d0d0d" stroke-width="1"/>
<rect x="588" y="262.2" width="3" height="5.5" fill="#0d0d0d"/>
<rect x="82.6" y="391" width="1.8" height="4.6" fill="#19d97a" fill-opacity="0.75"/>
<rect x="82.6" y="397.7" width="1.8" height="2.1" fill="#19d97a"/>
<rect x="122.1" y="391" width="1.8" height="4.6" fill="#ff5252" fill-opacity="0.75"/>
<rect x="122.1" y="397.7" width="1.8" height="2.1" fill="#ff5252"/>
<rect x="148.6" y="391" width="1.8" height="4.6" fill="#19d97a" fill-opacity="0.75"/>
<rect x="148.6" y="397.7" width="1.8" height="2.1" fill="#19d97a"/>
<rect x="152.2" y="391" width="1.8" height="4.6" fill="#19d97a" fill-opacity="0.75"/>
<rect x="152.2" y="397.7" width="1.8" height="2.1" fill="#19d97a"/>
<rect x="289.9" y="391" width="1.8" height="4.6" fill="#19d97a" fill-opacity="0.75"/>
<rect x="289.9" y="397.7" width="1.8" height="2.1" fill="#19d97a"/>
<rect x="338.6" y="391" width="1.8" height="4.6" fill="#ff5252" fill-opacity="0.75"/>
<rect x="338.6" y="397.7" width="1.8" height="2.1" fill="#ff5252"/>
<rect x="341.8" y="391" width="1.8" height="4.6" fill="#ff5252" fill-opacity="0.75"/>
<rect x="341.8" y="397.7" width="1.8" height="2.1" fill="#ff5252"/>
<rect x="464.0" y="391" width="1.8" height="4.6" fill="#ff5252" fill-opacity="0.75"/>
<rect x="464.0" y="397.7" width="1.8" height="2.1" fill="#ff5252"/>
<rect x="467.1" y="391" width="1.8" height="4.6" fill="#ff5252" fill-opacity="0.75"/>
<rect x="467.1" y="397.7" width="1.8" height="2.1" fill="#ff5252"/>
<rect x="470.4" y="391" width="1.8" height="4.6" fill="#ff5252" fill-opacity="0.75"/>
<rect x="470.4" y="397.7" width="1.8" height="2.1" fill="#ff5252"/>
<rect x="542.7" y="391" width="1.8" height="4.6" fill="#ff5252" fill-opacity="0.75"/>
<rect x="542.7" y="397.7" width="1.8" height="2.1" fill="#ff5252"/>
<rect x="545.6" y="391" width="1.8" height="4.6" fill="#ff5252" fill-opacity="0.75"/>
<rect x="545.6" y="397.7" width="1.8" height="2.1" fill="#ff5252"/>
<text x="-29.2" y="397.3" font-size="13.2" fill="#111111" text-anchor="start" font-weight="normal" textLength="47.6" lengthAdjust="spacingAndGlyphs" stroke="#111111" stroke-width="0.4">MONDAY</text>
<rect x="-6.0" y="401.8" width="1.2" height="1.2" fill="#3d75ff"/>
<text x="-10.9" y="397.3" font-size="13.2" fill="#111111" text-anchor="start" font-weight="normal" textLength="50.5" lengthAdjust="spacingAndGlyphs" stroke="#111111" stroke-width="0.4">TUESDAY</text>
<rect x="13.7" y="401.8" width="1.2" height="1.2" fill="#3d75ff"/>
<text x="-0.2" y="397.3" font-size="13.2" fill="#111111" text-anchor="start" font-weight="normal" textLength="68.4" lengthAdjust="spacingAndGlyphs" stroke="#111111" stroke-width="0.4">WEDNESDAY</text>
<rect x="33.4" y="401.8" width="1.2" height="1.2" fill="#3d75ff"/>
<text x="24.2" y="397.3" font-size="13.2" fill="#111111" text-anchor="start" font-weight="normal" textLength="59.2" lengthAdjust="spacingAndGlyphs" stroke="#111111" stroke-width="0.4">THURSDAY</text>
<rect x="53.2" y="401.8" width="1.2" height="1.2" fill="#3d75ff"/>
<text x="54.0" y="397.3" font-size="13.2" fill="#111111" text-anchor="start" font-weight="normal" textLength="39.0" lengthAdjust="spacingAndGlyphs" stroke="#111111" stroke-width="0.4">FRIDAY</text>
<rect x="72.9" y="401.8" width="1.2" height="1.2" fill="#3d75ff"/>
<text x="108.8" y="397.3" font-size="13.2" fill="#111111" text-anchor="start" font-weight="normal" textLength="47.6" lengthAdjust="spacingAndGlyphs" stroke="#111111" stroke-width="0.4">MONDAY</text>
<rect x="132.0" y="401.8" width="1.2" height="1.2" fill="#3d75ff"/>
<text x="127.1" y="397.3" font-size="13.2" fill="#111111" text-anchor="start" font-weight="normal" textLength="50.5" lengthAdjust="spacingAndGlyphs" stroke="#111111" stroke-width="0.4">TUESDAY</text>
<rect x="151.7" y="401.8" width="1.2" height="1.2" fill="#3d75ff"/>
<text x="137.8" y="397.3" font-size="13.2" fill="#111111" text-anchor="start" font-weight="normal" textLength="68.4" lengthAdjust="spacingAndGlyphs" stroke="#111111" stroke-width="0.4">WEDNESDAY</text>
<rect x="171.4" y="401.8" width="1.2" height="1.2" fill="#3d75ff"/>
<text x="162.2" y="397.3" font-size="13.2" fill="#111111" text-anchor="start" font-weight="normal" textLength="59.2" lengthAdjust="spacingAndGlyphs" stroke="#111111" stroke-width="0.4">THURSDAY</text>
<rect x="191.2" y="401.8" width="1.2" height="1.2" fill="#3d75ff"/>
<text x="192.0" y="397.3" font-size="13.2" fill="#111111" text-anchor="start" font-weight="normal" textLength="39.0" lengthAdjust="spacingAndGlyphs" stroke="#111111" stroke-width="0.4">FRIDAY</text>
<rect x="210.9" y="401.8" width="1.2" height="1.2" fill="#3d75ff"/>
<text x="246.8" y="397.3" font-size="13.2" fill="#111111" text-anchor="start" font-weight="normal" textLength="47.6" lengthAdjust="spacingAndGlyphs" stroke="#111111" stroke-width="0.4">MONDAY</text>
<rect x="270.0" y="401.8" width="1.2" height="1.2" fill="#3d75ff"/>
<text x="265.1" y="397.3" font-size="13.2" fill="#111111" text-anchor="start" font-weight="normal" textLength="50.5" lengthAdjust="spacingAndGlyphs" stroke="#111111" stroke-width="0.4">TUESDAY</text>
<rect x="289.7" y="401.8" width="1.2" height="1.2" fill="#3d75ff"/>
<text x="275.8" y="397.3" font-size="13.2" fill="#111111" text-anchor="start" font-weight="normal" textLength="68.4" lengthAdjust="spacingAndGlyphs" stroke="#111111" stroke-width="0.4">WEDNESDAY</text>
<rect x="309.4" y="401.8" width="1.2" height="1.2" fill="#3d75ff"/>
<text x="300.2" y="397.3" font-size="13.2" fill="#111111" text-anchor="start" font-weight="normal" textLength="59.2" lengthAdjust="spacingAndGlyphs" stroke="#111111" stroke-width="0.4">THURSDAY</text>
<rect x="329.2" y="401.8" width="1.2" height="1.2" fill="#3d75ff"/>
<text x="330.0" y="397.3" font-size="13.2" fill="#111111" text-anchor="start" font-weight="normal" textLength="39.0" lengthAdjust="spacingAndGlyphs" stroke="#111111" stroke-width="0.4">FRIDAY</text>
<rect x="348.9" y="401.8" width="1.2" height="1.2" fill="#3d75ff"/>
<text x="384.8" y="397.3" font-size="13.2" fill="#111111" text-anchor="start" font-weight="normal" textLength="47.6" lengthAdjust="spacingAndGlyphs" stroke="#111111" stroke-width="0.4">MONDAY</text>
<rect x="408.0" y="401.8" width="1.2" height="1.2" fill="#3d75ff"/>
<text x="403.1" y="397.3" font-size="13.2" fill="#111111" text-anchor="start" font-weight="normal" textLength="50.5" lengthAdjust="spacingAndGlyphs" stroke="#111111" stroke-width="0.4">TUESDAY</text>
<rect x="427.7" y="401.8" width="1.2" height="1.2" fill="#3d75ff"/>
<text x="413.8" y="397.3" font-size="13.2" fill="#111111" text-anchor="start" font-weight="normal" textLength="68.4" lengthAdjust="spacingAndGlyphs" stroke="#111111" stroke-width="0.4">WEDNESDAY</text>
<rect x="447.4" y="401.8" width="1.2" height="1.2" fill="#3d75ff"/>
<text x="438.2" y="397.3" font-size="13.2" fill="#111111" text-anchor="start" font-weight="normal" textLength="59.2" lengthAdjust="spacingAndGlyphs" stroke="#111111" stroke-width="0.4">THURSDAY</text>
<rect x="467.2" y="401.8" width="1.2" height="1.2" fill="#3d75ff"/>
<text x="468.0" y="397.3" font-size="13.2" fill="#111111" text-anchor="start" font-weight="normal" textLength="39.0" lengthAdjust="spacingAndGlyphs" stroke="#111111" stroke-width="0.4">FRIDAY</text>
<rect x="486.9" y="401.8" width="1.2" height="1.2" fill="#3d75ff"/>
<text x="522.8" y="397.3" font-size="13.2" fill="#111111" text-anchor="start" font-weight="normal" textLength="47.6" lengthAdjust="spacingAndGlyphs" stroke="#111111" stroke-width="0.4">MONDAY</text>
<rect x="546.0" y="401.8" width="1.2" height="1.2" fill="#3d75ff"/>
<text x="541.1" y="397.3" font-size="13.2" fill="#111111" text-anchor="start" font-weight="normal" textLength="50.5" lengthAdjust="spacingAndGlyphs" stroke="#111111" stroke-width="0.4">TUESDAY</text>
<rect x="565.7" y="401.8" width="1.2" height="1.2" fill="#3d75ff"/>
<text x="551.8" y="397.3" font-size="13.2" fill="#111111" text-anchor="start" font-weight="normal" textLength="68.4" lengthAdjust="spacingAndGlyphs" stroke="#111111" stroke-width="0.4">WEDNESDAY</text>
<rect x="585.4" y="401.8" width="1.2" height="1.2" fill="#3d75ff"/>
<text x="408.9" y="236.6" font-size="10" fill="#222" text-anchor="middle" font-weight="normal" textLength="17.5" lengthAdjust="spacingAndGlyphs" >BOS</text>
<text x="544" y="238.6" font-size="10" fill="#222" text-anchor="middle" font-weight="normal" textLength="17.5" lengthAdjust="spacingAndGlyphs" >BOS</text>
<text x="584.4" y="289.6" font-size="14" fill="#1a1a1a" text-anchor="start" font-weight="normal" textLength="18.8" lengthAdjust="spacingAndGlyphs" >ILQ</text>
<text x="582" y="329.4" font-size="14" fill="#1a1a1a" text-anchor="start" font-weight="normal" textLength="21.8" lengthAdjust="spacingAndGlyphs" >TLQ</text>
<text x="566.5" y="336.8" font-size="11.5" fill="#a9abb2" text-anchor="start" font-weight="normal" textLength="41" lengthAdjust="spacingAndGlyphs" >Extreme</text>
<text x="164.3" y="430.8" font-size="10" fill="#222" text-anchor="start" font-weight="normal" textLength="19.3" lengthAdjust="spacingAndGlyphs" >VTR</text>
<rect x="1423" y="251" width="92.2" height="32.3" fill="#4caf50" fill-opacity="0.1"/>
<text x="1468.8" y="272.0" font-size="14.5" fill="#4f9e3a" text-anchor="middle" font-weight="normal" textLength="23.4" lengthAdjust="spacingAndGlyphs" >240</text>
<rect x="1329.3" y="287.4" width="89.8" height="32.1" fill="#d3d5d8"/>
<text x="1374.2" y="308.0" font-size="15.5" fill="#ffffff" text-anchor="middle" font-weight="normal" textLength="64.4" lengthAdjust="spacingAndGlyphs" stroke="#fff" stroke-width="0.35">Structure</text>
<rect x="1329.3" y="323.6" width="89.8" height="32.1" fill="#d3d5d8"/>
<text x="1374.2" y="344.2" font-size="15.5" fill="#ffffff" text-anchor="middle" font-weight="normal" textLength="72" lengthAdjust="spacingAndGlyphs" stroke="#fff" stroke-width="0.35">Effeciency</text>
<rect x="1329.3" y="359.8" width="89.8" height="32.1" fill="#d3d5d8"/>
<text x="1374.2" y="380.4" font-size="15.5" fill="#ffffff" text-anchor="middle" font-weight="normal" textLength="31" lengthAdjust="spacingAndGlyphs" stroke="#fff" stroke-width="0.35">MSU</text>
<rect x="1329.3" y="396.0" width="89.8" height="32.1" fill="#d3d5d8"/>
<text x="1374.2" y="416.6" font-size="15.5" fill="#ffffff" text-anchor="middle" font-weight="normal" textLength="27" lengthAdjust="spacingAndGlyphs" stroke="#fff" stroke-width="0.35">VTA</text>
<text x="1437.2" y="308.0" font-size="15.5" fill="#10e27c" text-anchor="start" font-weight="normal" textLength="44.2" lengthAdjust="spacingAndGlyphs" stroke="#10e27c" stroke-width="0.35">Bullish</text>
<path d="M1489.2 308 L1495.2 297.6 L1501.2 308 Z" fill="#10e27c"/>
<text x="1432.3" y="344.0" font-size="15.5" fill="#10e27c" text-anchor="start" font-weight="normal" textLength="57.9" lengthAdjust="spacingAndGlyphs" stroke="#10e27c" stroke-width="0.35">Efficient</text>
<path d="M1496.6 339.6 L1499.6 343.6 L1507.0 333.2" fill="none" stroke="#10e27c" stroke-width="1.5" stroke-linecap="round" stroke-linejoin="round"/>
<text x="1447" y="416.5" font-size="15.5" fill="#ff5252" text-anchor="start" font-weight="normal" textLength="25.3" lengthAdjust="spacingAndGlyphs" stroke="#ff5252" stroke-width="0.3">VTA</text>
<path d="M1479.6 406.4 L1490.8 406.4 L1485.2 416.6 Z" fill="#ff5252"/>
</g>
<text x="20.2" y="51.8" font-size="13.6" fill="#9699a3" text-anchor="start" font-weight="normal" textLength="46.0" lengthAdjust="spacingAndGlyphs" stroke="#9699a3" stroke-width="0.15">ETHUSD</text>
<text x="73" y="51.8" font-size="13.6" fill="#9699a3" text-anchor="middle" font-weight="normal" stroke="#9699a3" stroke-width="0.15">·</text>
<text x="79.6" y="51.8" font-size="13.6" fill="#9699a3" text-anchor="start" font-weight="normal" textLength="13.2" lengthAdjust="spacingAndGlyphs" stroke="#9699a3" stroke-width="0.15">4h</text>
<text x="100" y="51.8" font-size="13.6" fill="#9699a3" text-anchor="middle" font-weight="normal" stroke="#9699a3" stroke-width="0.15">·</text>
<text x="106.3" y="51.8" font-size="13.6" fill="#9699a3" text-anchor="start" font-weight="normal" textLength="58.0" lengthAdjust="spacingAndGlyphs" stroke="#9699a3" stroke-width="0.15">COINBASE</text>
<text x="172.4" y="51.8" font-size="13.6" fill="#9699a3" text-anchor="start" font-weight="normal" textLength="7.6" lengthAdjust="spacingAndGlyphs" >O</text>
<text x="181.2" y="51.8" font-size="13.6" fill="#131722" text-anchor="start" font-weight="normal" textLength="51.1" lengthAdjust="spacingAndGlyphs" stroke="#131722" stroke-width="0.2">3,639.45</text>
<text x="240.4" y="51.8" font-size="13.6" fill="#9699a3" text-anchor="start" font-weight="normal" textLength="8.4" lengthAdjust="spacingAndGlyphs" >H</text>
<text x="249.7" y="51.8" font-size="13.6" fill="#131722" text-anchor="start" font-weight="normal" textLength="50.8" lengthAdjust="spacingAndGlyphs" stroke="#131722" stroke-width="0.2">3,644.47</text>
<text x="307.9" y="51.8" font-size="13.6" fill="#9699a3" text-anchor="start" font-weight="normal" textLength="5.6" lengthAdjust="spacingAndGlyphs" >L</text>
<text x="313.7" y="51.8" font-size="13.6" fill="#131722" text-anchor="start" font-weight="normal" textLength="52.8" lengthAdjust="spacingAndGlyphs" stroke="#131722" stroke-width="0.2">3,607.60</text>
<text x="373.6" y="51.8" font-size="13.6" fill="#9699a3" text-anchor="start" font-weight="normal" textLength="7.6" lengthAdjust="spacingAndGlyphs" >C</text>
<text x="382.2" y="51.8" font-size="13.6" fill="#131722" text-anchor="start" font-weight="normal" textLength="50.8" lengthAdjust="spacingAndGlyphs" stroke="#131722" stroke-width="0.2">3,619.51</text>
<text x="441.8" y="51.8" font-size="13.6" fill="#131722" text-anchor="start" font-weight="normal" textLength="93.2" lengthAdjust="spacingAndGlyphs" stroke="#131722" stroke-width="0.2">−19.94 (−0.55%)</text>
<text x="20.3" y="69.7" font-size="13" fill="#9699a3" text-anchor="start" font-weight="normal" textLength="13.2" lengthAdjust="spacingAndGlyphs" stroke="#9699a3" stroke-width="0.3">...</text>
<line x1="1527.5" y1="30" x2="1527.5" y2="674.2" stroke="#6e6e6e" stroke-width="1"/>
<text x="1535.6" y="76.8" font-size="11" fill="#9699a3" text-anchor="start" font-weight="normal" textLength="42.8" lengthAdjust="spacingAndGlyphs" >4,400.00</text>
<text x="1535.6" y="126" font-size="11" fill="#9699a3" text-anchor="start" font-weight="normal" textLength="42.8" lengthAdjust="spacingAndGlyphs" >4,200.00</text>
<text x="1535.6" y="175.5" font-size="11" fill="#9699a3" text-anchor="start" font-weight="normal" textLength="42.8" lengthAdjust="spacingAndGlyphs" >4,000.00</text>
<text x="1535.6" y="224.9" font-size="11" fill="#9699a3" text-anchor="start" font-weight="normal" textLength="42.8" lengthAdjust="spacingAndGlyphs" >3,800.00</text>
<text x="1535.6" y="324.3" font-size="11" fill="#9699a3" text-anchor="start" font-weight="normal" textLength="42.8" lengthAdjust="spacingAndGlyphs" >3,400.00</text>
<text x="1535.6" y="373.8" font-size="11" fill="#9699a3" text-anchor="start" font-weight="normal" textLength="42.8" lengthAdjust="spacingAndGlyphs" >3,200.00</text>
<text x="1535.6" y="423.2" font-size="11" fill="#9699a3" text-anchor="start" font-weight="normal" textLength="42.8" lengthAdjust="spacingAndGlyphs" >3,000.00</text>
<path d="M1528 231 h53 a2 2 0 0 1 2 2 v27.3 h-55 z" fill="#000"/>
<path d="M1528 260.3 h55 v13.3 a2 2 0 0 1 -2 2 h-53 z" fill="#3a8f85"/>
<text x="1536.6" y="242.6" font-size="12" fill="#ffffff" text-anchor="start" font-weight="bold" textLength="41.8" lengthAdjust="spacingAndGlyphs" >3,619.51</text>
<text x="1536.6" y="255.9" font-size="12" fill="#d4d4d4" text-anchor="start" font-weight="normal" textLength="42.5" lengthAdjust="spacingAndGlyphs" stroke="#d4d4d4" stroke-width="0.2">01:28:23</text>
<text x="1536.6" y="271.4" font-size="12" fill="#ffffff" text-anchor="start" font-weight="bold" textLength="41.8" lengthAdjust="spacingAndGlyphs" >3,619.51</text>
<rect x="12" y="439.4" width="1576.4" height="1.6" fill="#5a5b60"/>
<g clip-path="url(#rp)">
<rect x="12" y="505" width="1515" height="106" fill="#7e57c2" fill-opacity="0.11"/>
<polygon points="11.3,505.5 11.3,505.5 17.6,505.5 20.3,505.5 23.5,505.5 26.7,505.5 30.2,505.5 33.8,505.5 37.0,505.5 39.7,505.5 43.2,482.2 49.1,479.5 53.2,477.4 59.9,492.2 66.7,464.4 76.1,461.7 79.6,478.7 82.9,473.3 86.4,498.4 89.6,497.6 95.8,499.0 99.6,505.5 103.1,505.5 105.8,505.5 112.6,505.5 115.8,505.5 119.3,502.2 122.5,504.9 126.0,505.5 129.6,497.6 135.5,494.9 139.0,505.5 142.3,505.5 145.8,505.5 149.0,505.5 152.5,505.5 155.7,505.5 159.3,505.5 162.5,505.5 165.7,499.0 169.2,505.5 171.9,500.3 175.5,504.9 182.7,473.3 185.4,477.9 188.7,493.6 192.2,482.0 196.2,488.2 201.6,493.6 208.4,474.7 214.0,473.3 217.3,491.4 220.8,495.7 224.0,497.1 227.5,490.9 231.0,500.3 234.3,505.5 237.0,505.5 240.5,503.0 243.7,499.8 247.2,489.5 249.9,487.6 253.7,477.4 257.2,474.1 260.5,489.0 266.7,488.2 270.7,483.6 274.0,480.6 276.9,480.9 280.2,505.5 283.4,505.5 286.9,505.5 290.2,505.5 293.7,505.5 296.9,505.5 300.4,505.5 303.7,505.5 306.6,505.5 309.9,505.5 313.1,505.5 316.6,505.5 319.9,505.5 323.4,505.5 326.6,505.5 329.8,505.5 333.3,505.5 336.3,505.5 339.6,505.5 343.1,505.5 346.3,505.5 349.5,505.5 353.0,505.5 356.3,505.5 359.8,505.5 363.0,505.5 366.0,505.5 369.2,505.5 374.6,505.5 378.7,505.5 381.9,505.5 385.4,505.5 388.1,505.5 391.4,505.5 394.9,505.5 398.1,505.5 401.6,505.5 404.9,505.5 408.4,505.5 411.6,505.5 414.5,505.5 418.1,505.5 421.3,505.5 424.8,505.5 428.1,505.5 431.6,505.5 434.8,505.5 437.8,505.5 441.0,505.5 444.5,505.5 447.8,505.5 451.3,505.5 454.5,505.5 458.0,505.5 461.3,505.5 464.8,505.5 467.5,505.5 471.5,505.5 474.8,505.5 478.0,505.5 481.0,505.5 484.2,505.5 487.5,505.5 490.4,505.5 493.7,505.5 496.9,505.5 501.0,505.5 503.9,505.5 507.2,505.5 510.4,505.5 513.9,505.5 517.4,505.5 520.7,505.5 523.9,505.5 526.9,505.5 530.6,505.5 533.6,505.5 536.3,505.5 539.0,505.5 542.8,505.5 546.3,505.5 549.0,505.5 552.5,505.5 555.7,505.5 559.0,505.5 562.5,505.5 565.7,505.5 569.2,505.5 572.8,505.5 576.0,505.5 579.5,505.5 582.7,505.5 586.0,505.5 589.2,505.5 589.2,505.5" fill="url(#gg)"/>
<polygon points="11.3,610.5 11.3,610.5 17.6,610.5 20.3,610.5 23.5,610.5 26.7,610.5 30.2,610.5 33.8,610.5 37.0,610.5 39.7,610.5 43.2,610.5 49.1,610.5 53.2,610.5 59.9,610.5 66.7,610.5 76.1,610.5 79.6,610.5 82.9,610.5 86.4,610.5 89.6,610.5 95.8,610.5 99.6,610.5 103.1,610.5 105.8,610.5 112.6,610.5 115.8,610.5 119.3,610.5 122.5,610.5 126.0,610.5 129.6,610.5 135.5,610.5 139.0,610.5 142.3,610.5 145.8,610.5 149.0,610.5 152.5,610.5 155.7,610.5 159.3,610.5 162.5,610.5 165.7,610.5 169.2,610.5 171.9,610.5 175.5,610.5 182.7,610.5 185.4,610.5 188.7,610.5 192.2,610.5 196.2,610.5 201.6,610.5 208.4,610.5 214.0,610.5 217.3,610.5 220.8,610.5 224.0,610.5 227.5,610.5 231.0,610.5 234.3,610.5 237.0,610.5 240.5,610.5 243.7,610.5 247.2,610.5 249.9,610.5 253.7,610.5 257.2,610.5 260.5,610.5 266.7,610.5 270.7,610.5 274.0,610.5 276.9,610.5 280.2,610.5 283.4,610.5 286.9,610.5 290.2,610.5 293.7,610.5 296.9,610.5 300.4,610.5 303.7,610.5 306.6,610.5 309.9,610.5 313.1,610.5 316.6,610.5 319.9,610.5 323.4,610.5 326.6,610.5 329.8,610.5 333.3,610.5 336.3,610.5 339.6,610.5 343.1,610.5 346.3,610.5 349.5,610.5 353.0,610.5 356.3,610.5 359.8,610.5 363.0,610.5 366.0,610.5 369.2,610.5 374.6,610.5 378.7,610.5 381.9,610.5 385.4,610.5 388.1,610.5 391.4,610.5 394.9,610.5 398.1,610.5 401.6,610.5 404.9,610.5 408.4,610.5 411.6,610.5 414.5,610.5 418.1,610.5 421.3,610.5 424.8,610.5 428.1,610.5 431.6,610.5 434.8,610.5 437.8,610.5 441.0,610.5 444.5,610.5 447.8,610.5 451.3,610.5 454.5,610.5 458.0,610.5 461.3,610.5 464.8,610.5 467.5,610.5 471.5,610.5 474.8,610.5 478.0,610.5 481.0,610.5 484.2,610.5 487.5,610.5 490.4,610.5 493.7,610.5 496.9,616.4 501.0,621.8 503.9,610.5 507.2,610.5 510.4,610.5 513.9,618.5 517.4,628.5 520.7,623.1 523.9,610.5 526.9,610.5 530.6,610.5 533.6,610.5 536.3,610.5 539.0,610.5 542.8,610.5 546.3,610.5 549.0,610.5 552.5,610.5 555.7,610.5 559.0,610.5 562.5,610.5 565.7,610.5 569.2,610.5 572.8,610.5 576.0,610.5 579.5,610.5 582.7,610.5 586.0,610.5 589.2,610.5 589.2,610.5" fill="url(#rg)"/>
<line x1="11.6" y1="505.5" x2="1527" y2="505.5" stroke="#62646b" stroke-width="1" stroke-dasharray="4.3 5.39"/>
<line x1="11.6" y1="557.5" x2="1527" y2="557.5" stroke="#a6a8b0" stroke-width="1" stroke-dasharray="4.3 5.39"/>
<line x1="11.6" y1="610.5" x2="1527" y2="610.5" stroke="#62646b" stroke-width="1" stroke-dasharray="4.3 5.39"/>
<polyline points="11.3,546.2 16.7,542.7 23.5,538.9 37.0,536.2 43.7,530.0 50.5,518.4 57.2,508.4 64.0,500.3 70.7,490.3 77.5,481.4 85.6,477.4 91.0,478.7 97.7,482.8 104.5,486.8 111.2,492.2 118.0,499.0 124.7,504.9 130.1,507.6 136.9,507.6 142.3,509.8 147.7,512.5 154.4,515.7 161.1,517.9 166.5,518.4 171.9,517.3 178.7,517.3 185.4,513.8 192.2,508.4 196.2,503.0 201.6,496.3 208.4,489.5 215.4,485.5 220.8,484.7 226.2,486.0 231.6,488.2 237.0,490.3 243.7,492.2 250.5,492.2 257.2,492.8 262.6,493.6 268.0,493.0 274.8,491.4 278.8,490.1 284.2,490.9 289.6,494.1 296.4,501.7 303.1,511.1 309.9,519.2 316.6,529.2 323.4,540.8 330.1,548.9 334.2,551.6 340.9,552.2 346.3,554.3 351.7,556.5 358.4,557.5 362.5,557.0 366.6,554.3 372.0,551.6 377.3,548.4 382.7,548.4 388.1,547.0 393.5,542.2 398.9,538.9 404.3,533.5 411.1,528.1 416.7,528.7 423.5,529.5 430.2,529.2 437.0,533.3 445.1,539.5 453.2,547.6 458.6,552.2 464.0,551.1 470.7,550.3 477.5,554.3 484.2,557.0 491.0,563.8 497.7,571.9 504.5,580.0 511.2,590.7 518.0,602.4 523.4,606.4 528.8,608.3 534.2,608.3 539.6,606.1 545.0,599.7 550.4,593.4 555.8,584.0 561.2,572.4 566.6,563.8 572.0,557.8 577.4,554.3 582.7,551.1 589.2,548.4" fill="none" stroke="#fbd440" stroke-width="1.4" stroke-linejoin="round"/>
<polyline points="11.3,554.3 17.6,533.5 20.3,540.0 23.5,517.9 26.7,516.5 30.2,534.0 33.8,520.0 37.0,518.4 39.7,508.4 43.2,482.2 49.1,479.5 53.2,477.4 59.9,492.2 66.7,464.4 76.1,461.7 79.6,478.7 82.9,473.3 86.4,498.4 89.6,497.6 95.8,499.0 99.6,522.7 103.1,517.3 105.8,516.5 112.6,510.6 115.8,509.8 119.3,502.2 122.5,504.9 126.0,515.7 129.6,497.6 135.5,494.9 139.0,518.4 142.3,525.2 145.8,521.1 149.0,552.2 152.5,543.5 155.7,540.8 159.3,522.7 162.5,521.1 165.7,499.0 169.2,509.0 171.9,500.3 175.5,504.9 182.7,473.3 185.4,477.9 188.7,493.6 192.2,482.0 196.2,488.2 201.6,493.6 208.4,474.7 214.0,473.3 217.3,491.4 220.8,495.7 224.0,497.1 227.5,490.9 231.0,500.3 234.3,507.1 237.0,507.6 240.5,503.0 243.7,499.8 247.2,489.5 249.9,487.6 253.7,477.4 257.2,474.1 260.5,489.0 266.7,488.2 270.7,483.6 274.0,480.6 276.9,480.9 280.2,515.7 283.4,510.6 286.9,524.6 290.2,542.7 293.7,535.4 296.9,532.2 300.4,548.9 303.7,530.6 306.6,535.4 309.9,552.4 313.1,553.8 316.6,563.2 319.9,576.4 323.4,563.8 326.6,560.5 329.8,573.2 333.3,553.0 336.3,537.6 339.6,536.8 343.1,545.4 346.3,572.4 349.5,562.4 353.0,544.1 356.3,562.4 359.8,561.1 363.0,544.3 366.0,540.8 369.2,540.3 374.6,542.2 378.7,538.9 381.9,541.6 385.4,533.5 388.1,535.4 391.4,525.2 394.9,523.8 398.1,520.6 401.6,511.1 404.9,509.8 408.4,507.1 411.6,514.4 414.5,543.5 418.1,547.6 421.3,547.6 424.8,550.3 428.1,524.6 431.6,546.2 434.8,563.8 437.8,562.4 441.0,554.3 444.5,547.0 447.8,548.9 451.3,566.5 454.5,553.8 458.0,564.3 461.3,550.3 464.8,536.2 467.5,536.2 471.5,547.6 474.8,562.4 478.0,574.6 481.0,583.5 484.2,581.8 487.5,593.4 490.4,594.8 493.7,600.2 496.9,616.4 501.0,621.8 503.9,606.4 507.2,607.8 510.4,609.6 513.9,618.5 517.4,628.5 520.7,623.1 523.9,603.4 526.9,598.8 530.6,588.9 533.6,590.7 536.3,583.2 539.0,582.6 542.8,561.9 546.3,562.9 549.0,561.6 552.5,533.5 555.7,528.1 559.0,517.3 562.5,541.6 565.7,553.0 569.2,538.1 572.8,564.6 576.0,564.3 579.5,554.3 582.7,561.1 586.0,547.6 589.2,552.4" fill="none" stroke="#7e57c2" stroke-width="1.5" stroke-linejoin="round"/>
</g>
<text x="20.1" y="462.4" font-size="13.3" fill="#9699a3" text-anchor="start" font-weight="normal" textLength="84.4" lengthAdjust="spacingAndGlyphs" >RSI (14, close)</text>
<text x="112.6" y="462.4" font-size="13" fill="#7e57c2" text-anchor="start" font-weight="normal" textLength="32.4" lengthAdjust="spacingAndGlyphs" >51.76</text>
<text x="152.5" y="462.4" font-size="13" fill="#f5c93a" text-anchor="start" font-weight="normal" textLength="33.5" lengthAdjust="spacingAndGlyphs" >53.28</text>
<text x="1535.6" y="482.5" font-size="11" fill="#9699a3" text-anchor="start" font-weight="normal" textLength="27.5" lengthAdjust="spacingAndGlyphs" >80.00</text>
<text x="1535.6" y="587.3" font-size="11" fill="#9699a3" text-anchor="start" font-weight="normal" textLength="27.5" lengthAdjust="spacingAndGlyphs" >40.00</text>
<text x="1535.6" y="640" font-size="11" fill="#9699a3" text-anchor="start" font-weight="normal" textLength="27.5" lengthAdjust="spacingAndGlyphs" >20.00</text>
<text x="1535.6" y="534.0" font-size="11" fill="#9699a3" text-anchor="start" font-weight="normal" textLength="27.5" lengthAdjust="spacingAndGlyphs" >60.00</text>
<path d="M1528 529.8 h38.4 a2 2 0 0 1 2 2 v14.3 h-40.4 z" fill="#fdd835"/>
<path d="M1528 546.1 h40.4 v13 a2 2 0 0 1 -2 2 h-38.4 z" fill="#7e57c2"/>
<text x="1537" y="542.0" font-size="11.5" fill="#131722" text-anchor="start" font-weight="bold" textLength="26.5" lengthAdjust="spacingAndGlyphs" >53.28</text>
<text x="1537" y="557.3" font-size="11.5" fill="#ffffff" text-anchor="start" font-weight="bold" textLength="26.5" lengthAdjust="spacingAndGlyphs" >51.76</text>
<rect x="12" y="646" width="1576.4" height="1" fill="#5a5b60"/>
<text x="50.9" y="664.5" font-size="11" fill="#9699a3" text-anchor="middle" font-weight="normal" >10</text>
<text x="110.0" y="664.5" font-size="11" fill="#9699a3" text-anchor="middle" font-weight="normal" >13</text>
<text x="169.2" y="664.5" font-size="11" fill="#9699a3" text-anchor="middle" font-weight="normal" >16</text>
<text x="228.3" y="664.5" font-size="11" fill="#9699a3" text-anchor="middle" font-weight="normal" >19</text>
<text x="287.4" y="664.5" font-size="11" fill="#9699a3" text-anchor="middle" font-weight="normal" >22</text>
<text x="346.6" y="664.5" font-size="11" fill="#9699a3" text-anchor="middle" font-weight="normal" >25</text>
<text x="405.7" y="664.5" font-size="11" fill="#9699a3" text-anchor="middle" font-weight="normal" >28</text>
<text x="484.5" y="664.5" font-size="11" fill="#9699a3" text-anchor="middle" font-weight="bold" >Aug</text>
<text x="543.6" y="664.5" font-size="11" fill="#9699a3" text-anchor="middle" font-weight="normal" >4</text>
<text x="602.8" y="664.5" font-size="11" fill="#9699a3" text-anchor="middle" font-weight="normal" >7</text>
<text x="661.9" y="664.5" font-size="11" fill="#9699a3" text-anchor="middle" font-weight="normal" >10</text>
<text x="721.0" y="664.5" font-size="11" fill="#9699a3" text-anchor="middle" font-weight="normal" >13</text>
<text x="780.2" y="664.5" font-size="11" fill="#9699a3" text-anchor="middle" font-weight="normal" >16</text>
<text x="839.3" y="664.5" font-size="11" fill="#9699a3" text-anchor="middle" font-weight="normal" >19</text>
<text x="898.4" y="664.5" font-size="11" fill="#9699a3" text-anchor="middle" font-weight="normal" >22</text>
<text x="957.6" y="664.5" font-size="11" fill="#9699a3" text-anchor="middle" font-weight="normal" >25</text>
<text x="1016.7" y="664.5" font-size="11" fill="#9699a3" text-anchor="middle" font-weight="normal" >28</text>
<text x="1095.5" y="664.5" font-size="11" fill="#9699a3" text-anchor="middle" font-weight="bold" >Sep</text>
<text x="1154.7" y="664.5" font-size="11" fill="#9699a3" text-anchor="middle" font-weight="normal" >4</text>
<text x="1213.8" y="664.5" font-size="11" fill="#9699a3" text-anchor="middle" font-weight="normal" >7</text>
<text x="1272.9" y="664.5" font-size="11" fill="#9699a3" text-anchor="middle" font-weight="normal" >10</text>
<text x="1332.1" y="664.5" font-size="11" fill="#9699a3" text-anchor="middle" font-weight="normal" >13</text>
<text x="1391.2" y="664.5" font-size="11" fill="#9699a3" text-anchor="middle" font-weight="normal" >16</text>
<text x="1450.3" y="664.5" font-size="11" fill="#9699a3" text-anchor="middle" font-weight="normal" >19</text>
<text x="1509.4" y="664.5" font-size="11" fill="#9699a3" text-anchor="middle" font-weight="normal" >22</text>
<g fill="#dcdcdc">
<path d="M13.3 699.5 H26.8 V716 H20.4 V706.1 H13.3 Z"/>
<circle cx="32.5" cy="702.0" r="2.45"/>
<path d="M37.1 699.5 H46.8 L41 716 H31.9 Z"/>
</g>
<text x="54.6" y="716" font-size="22.6" fill="#dcdcdc" text-anchor="start" font-weight="bold" textLength="133.2" lengthAdjust="spacingAndGlyphs" >TradingView</text>
</svg>
</body></html>
